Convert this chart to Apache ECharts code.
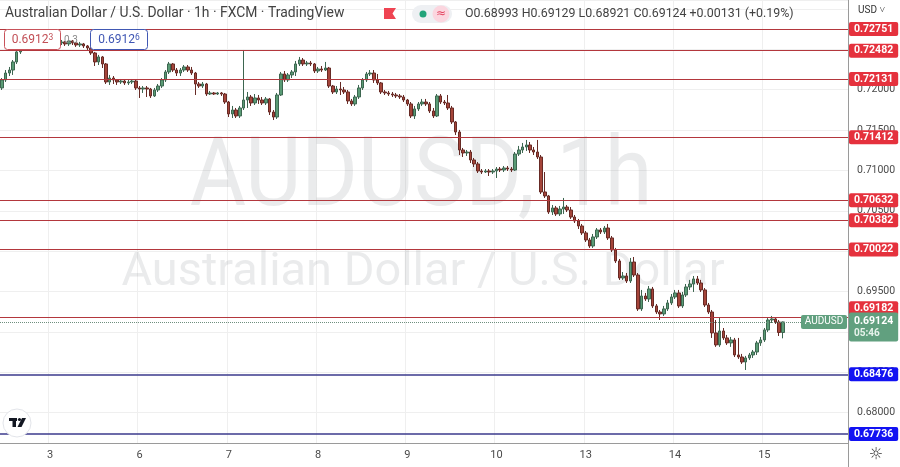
<!DOCTYPE html>
<html><head><meta charset="utf-8">
<script src="https://cdn.jsdelivr.net/npm/echarts@6/dist/echarts.min.js"></script>
<style>html,body{margin:0;padding:0;background:#fff}#c{width:900px;height:467px}</style>
</head><body><div id="c"></div>
<script>
// ---- DATA (AUD/USD, 1h bars, FXCM) ----
const opens = [
.72021,.7212,.72206,.72243,.72343,.72467,.72541,.72566,.72615,.72591,
.7264,.72615,.72665,.7264,.72603,.72615,.72578,.72591,.72566,.72603,
.72578,.72553,.72566,.72541,.72516,.72454,.72343,.72405,.72318,.72095,
.72144,.7212,.72095,.72107,.72083,.72095,.72107,.72021,.72008,.72021,
.72008,.71922,.71996,.72045,.7212,.72219,.72318,.72243,.72206,.72243,
.72281,.72243,.72206,.7207,.72045,.7207,.71946,.71959,.71946,.71959,
.71946,.71847,.71699,.71748,.71674,.71773,.71872,.71909,.71835,.71897,
.71872,.71835,.71885,.71723,.71661,.71934,.72194,.7212,.72182,.72219,
.72318,.72367,.72318,.7233,.72318,.72231,.72256,.72243,.72268,.72045,
.71971,.72008,.71996,.71971,.7186,.71823,.71909,.72021,.7212,.72194,
.72206,.7212,.72083,.71971,.71959,.71946,.71934,.71922,.71909,.71872,
.71823,.71674,.71761,.71823,.71847,.71823,.71736,.71674,.71922,.71847,
.71835,.71773,.716,.71476,.71253,.71216,.71228,.71129,.7108,.70993,
.7098,.70993,.7098,.70993,.71017,.71005,.7103,.71017,.71005,.71203,
.71253,.7129,.71315,.71253,.71228,.71166,.70733,.70684,.70485,.70535,
.70461,.70522,.70547,.7051,.70423,.70374,.70312,.70226,.70139,.70064,
.70176,.70263,.70238,.70287,.70164,.70015,.69879,.69668,.69693,.69631,
.69866,.69705,.69285,.69445,.69408,.69532,.69322,.69247,.69223,.69285,
.69359,.69433,.69483,.69322,.69458,.69557,.69594,.69656,.69606,.6952,
.69334,.69247,.68988,.68839,.69012,.68926,.68864,.68901,.68715,.6869,
.68628,.68678,.68715,.68752,.68864,.68901,.69025,.69148,.69161,.69123,
.68993];
const closes = [
.7212,.72206,.72243,.72343,.72467,.72541,.72566,.72615,.72591,.7264,
.72615,.72665,.7264,.72603,.72615,.72578,.72591,.72566,.72603,.72578,
.72553,.72566,.72541,.72516,.72454,.72343,.72405,.72318,.72095,.72144,
.7212,.72095,.72107,.72083,.72095,.72107,.72021,.72008,.72021,.72008,
.71922,.71996,.72045,.7212,.72219,.72318,.72243,.72206,.72243,.72281,
.72243,.72206,.7207,.72045,.7207,.71946,.71959,.71946,.71959,.71946,
.71847,.71699,.71748,.71674,.71773,.71872,.71909,.71835,.71897,.71872,
.71835,.71885,.71723,.71661,.71934,.72194,.7212,.72182,.72219,.72318,
.72367,.72318,.7233,.72318,.72231,.72256,.72243,.72268,.72045,.71971,
.72008,.71996,.71971,.7186,.71823,.71909,.72021,.7212,.72194,.72206,
.7212,.72083,.71971,.71959,.71946,.71934,.71922,.71909,.71872,.71823,
.71674,.71761,.71823,.71847,.71823,.71736,.71674,.71922,.71847,.71835,
.71773,.716,.71476,.71253,.71216,.71228,.71129,.7108,.70993,.7098,
.70993,.7098,.70993,.71017,.71005,.7103,.71017,.71005,.71203,.71253,
.7129,.71315,.71253,.71228,.71166,.70733,.70684,.70485,.70535,.70461,
.70522,.70547,.7051,.70423,.70374,.70312,.70226,.70139,.70064,.70176,
.70263,.70238,.70287,.70164,.70015,.69879,.69668,.69693,.69631,.69866,
.69705,.69285,.69445,.69408,.69532,.69322,.69247,.69223,.69285,.69359,
.69433,.69483,.69322,.69458,.69557,.69594,.69656,.69606,.6952,.69334,
.69247,.68988,.68839,.69012,.68926,.68864,.68901,.68715,.6869,.68628,
.68678,.68715,.68752,.68864,.68901,.69025,.69148,.69161,.69123,.68993,
.69124];
const highs = [
.72144,.72243,.72281,.72367,.72491,.72566,.72591,.7264,.72627,.72665,
.72652,.7269,.72677,.72665,.7264,.72627,.72615,.72603,.72615,.72615,
.72591,.72591,.72578,.72553,.72541,.72467,.7243,.72417,.7233,.72182,
.72169,.72132,.72132,.7212,.7212,.72132,.7212,.72045,.72045,.72045,
.72021,.72021,.7207,.72144,.72243,.72343,.7233,.72268,.72268,.72305,
.72305,.72281,.72219,.72095,.72095,.72083,.71984,.71971,.71971,.71971,
.71959,.7186,.71798,.71773,.71798,.72491,.71971,.71934,.71946,.71934,
.71909,.71909,.71897,.71748,.71959,.72219,.72231,.72206,.72243,.72355,
.72405,.72392,.72355,.72355,.7233,.72281,.72293,.72343,.72281,.72058,
.72045,.72095,.72033,.71996,.71885,.71934,.72058,.72144,.72219,.72243,
.72243,.72194,.72095,.71996,.71984,.71971,.71959,.71946,.71934,.71885,
.71847,.71798,.71847,.71885,.71885,.71847,.71773,.71946,.71946,.71872,
.71934,.71798,.71612,.71501,.71278,.71253,.71253,.71154,.71104,.71017,
.71017,.71017,.71017,.71042,.71042,.71055,.71055,.71042,.71228,.71303,
.7134,.71377,.71352,.7129,.71377,.71191,.7098,.70696,.70572,.7056,
.7056,.70659,.70572,.70547,.70448,.70399,.70337,.7025,.70164,.70213,
.70287,.70287,.70312,.70337,.70188,.7004,.69903,.69742,.6973,.69916,
.69928,.6973,.6952,.69483,.69569,.69557,.69346,.69272,.69322,.69396,
.6947,.6952,.6952,.69495,.69594,.69644,.69693,.69693,.69644,.69544,
.69359,.69272,.69148,.69173,.69049,.68963,.68938,.68926,.68926,.68728,
.68703,.6874,.68777,.68889,.68938,.69049,.69173,.69198,.69185,.69148,
.69129];
const lows = [
.71996,.72095,.72169,.72182,.72318,.72442,.72516,.72541,.72553,.72566,
.72591,.72603,.72615,.72578,.72578,.72553,.72553,.72541,.72541,.72553,
.72529,.72529,.72516,.72491,.7243,.72293,.72305,.72268,.7207,.72058,
.7207,.72058,.7207,.72058,.72058,.7207,.71996,.71897,.71959,.71909,
.71897,.71909,.71971,.72021,.72095,.72194,.72219,.72169,.72169,.72219,
.72219,.72182,.71934,.72021,.72021,.71922,.71934,.71934,.71934,.71922,
.71823,.71661,.71649,.71649,.71649,.71748,.71773,.71798,.7181,.71823,
.7181,.7181,.71686,.71624,.71637,.71922,.72095,.72095,.72144,.72169,
.72293,.72293,.72293,.72293,.72206,.72206,.72219,.72231,.72021,.71946,
.71946,.71934,.71946,.71823,.71798,.71798,.71885,.71996,.72095,.72169,
.72083,.72058,.71946,.71934,.71922,.71909,.71897,.71885,.71847,.71798,
.71649,.71637,.71736,.71798,.71798,.71711,.71649,.71661,.71823,.7181,
.71748,.71575,.71439,.71191,.71166,.71179,.71092,.71042,.70968,.70956,
.70968,.70931,.70956,.70906,.7098,.7098,.70993,.7098,.70993,.71179,
.71216,.71241,.71216,.71191,.71141,.70708,.70659,.70461,.70448,.70436,
.70436,.70461,.70485,.70399,.70349,.70275,.70201,.70114,.7004,.7004,
.70151,.70213,.70213,.70139,.6999,.69854,.69644,.69644,.69606,.69606,
.6968,.6926,.6926,.69384,.69371,.69297,.69223,.69148,.69198,.6926,
.69334,.69408,.69297,.69297,.69433,.6952,.69495,.69582,.69495,.69309,
.69223,.68926,.68815,.68815,.68901,.68839,.68815,.6869,.68666,.68604,
.68529,.68653,.68678,.68715,.68827,.68876,.69,.69111,.69099,.6895,
.68921];
const sessionDays = ['2','3','6','7','8','9','10','13','14','15'];
const firstBarHour = 11;
const redLevels = [0.72751, 0.72482, 0.72131, 0.71412, 0.70632, 0.70382, 0.70022, 0.69182];
const blueLevels = [0.68476, 0.67736];
const lastPrice = 0.69124;
const countdown = '05:46';
const symbolName = 'AUDUSD';
const titleText = 'Australian Dollar / U.S. Dollar · 1h · FXCM · TradingView';
const ohlcText = 'O0.68993 H0.69129 L0.68921 C0.69124 +0.00131 (+0.19%)';
const sellQuote = ['0.6912', '3'];
const buyQuote = ['0.6912', '6'];
const spreadText = '0.3';
const watermark1 = 'AUDUSD, 1h';
const watermark2 = 'Australian Dollar / U.S. Dollar';
const currencyText = 'USD ˅';
const rightPadSlots = 17;

// ---- categories (hourly) ----
const categories = [];
{ let d = 0, h = firstBarHour;
  for (let i = 0; i < closes.length; i++) {
    categories.push(sessionDays[d] + ' ' + String(h).padStart(2, '0') + ':00');
    h++; if (h === 24) { h = 0; d++; }
  }
  for (let i = 0; i < rightPadSlots; i++) categories.push('');
}
const isDayStart = (i, v) => typeof v === 'string' && v.endsWith(' 00:00');

const candleData = opens.map((o, i) => [o, closes[i], lows[i], highs[i]]);

const FONT = 'Roboto';
const lblBase = { show: true, position: 'end', distance: 1, color: '#fff', fontWeight: 'bold',
  fontSize: 10.5, fontFamily: FONT, padding: [2, 5, 1, 5], borderRadius: 2 };
const markData = [];
redLevels.forEach(v => markData.push({ yAxis: v,
  lineStyle: { color: '#b3373d', width: 1, type: 'solid' },
  label: Object.assign({}, lblBase, { formatter: v.toFixed(5), backgroundColor: '#e5313d',
    offset: v === 0.69182 ? [0, -9] : [0, 0] }) }));
blueLevels.forEach(v => markData.push({ yAxis: v,
  lineStyle: { color: '#3b3a8c', width: 1.5, type: 'solid' },
  label: Object.assign({}, lblBase, { formatter: v.toFixed(5), backgroundColor: '#1212f2' }) }));
markData.push({ yAxis: lastPrice,
  lineStyle: { color: '#6f8f7e', width: 1, type: 'dotted' },
  label: Object.assign({}, lblBase, { offset: [0, 5], backgroundColor: '#61a07f', padding: [3, 5, 2, 5],
    formatter: '{a|' + lastPrice.toFixed(5) + '}\n{b|' + countdown + '}',
    rich: { a: { color: '#fff', fontSize: 10.5, fontWeight: 'bold', fontFamily: FONT, lineHeight: 12 },
            b: { color: '#e8f3ec', fontSize: 10, fontFamily: FONT, lineHeight: 12 } } }) });

const chart = echarts.init(document.getElementById('c'), null, { renderer: 'canvas' });
chart.setOption({
  animation: false,
  backgroundColor: '#ffffff',
  textStyle: { fontFamily: FONT },
  grid: { left: 0, right: 52, top: 0, bottom: 24, containLabel: false },
  xAxis: { type: 'category', data: categories, boundaryGap: true,
    axisLine: { show: true, lineStyle: { color: '#9a9a9a', width: 1 } },
    axisTick: { show: false },
    axisLabel: { interval: isDayStart, formatter: v => v.split(' ')[0], color: '#4a4a4a', fontSize: 11, margin: 7 },
    splitLine: { show: true, interval: isDayStart, lineStyle: { color: '#efefef', width: 1 } } },
  yAxis: { type: 'value', position: 'right', min: 0.67625, max: 0.7311, splitNumber: 10,
    axisLine: { show: true, lineStyle: { color: '#9a9a9a', width: 1 } },
    axisTick: { show: false },
    axisLabel: { color: '#4a4a4a', fontSize: 10.5, margin: 9,
      formatter: v => (Math.abs(v / 0.005 - Math.round(v / 0.005)) < 1e-6 && v < 0.7295) ? v.toFixed(5) : '' },
    splitLine: { show: true, lineStyle: { color: '#efefef', width: 1 } } },
  series: [{
    type: 'candlestick', data: candleData, barWidth: 3, z: 3,
    itemStyle: { color: '#5a9b75', color0: '#a5453a', borderColor: '#3d6650', borderColor0: '#672a25', borderWidth: 1 },
    markLine: { symbol: ['none', 'none'], precision: 5, silent: true, animation: false, z: 4, data: markData }
  }]
});

// ---- overlays (chrome + labels) ----
const yLast = chart.convertToPixel({ yAxisIndex: 0 }, lastPrice);
const gfx = [
  { type: 'text', z: 1, x: 421, y: 181, scaleX: 0.9,
    style: { text: watermark1, fontFamily: FONT, fontSize: 96, fill: 'rgba(95,98,110,0.13)', align: 'center', verticalAlign: 'middle' } },
  { type: 'text', z: 1, x: 423, y: 273, scaleX: 1.02,
    style: { text: watermark2, fontFamily: FONT, fontSize: 46, fill: 'rgba(95,98,110,0.13)', align: 'center', verticalAlign: 'middle' } },
  { type: 'line', z: 50, shape: { x1: 848.5, y1: 0, x2: 848.5, y2: 467 }, style: { stroke: '#9a9a9a', lineWidth: 1 } },
  // header
  { type: 'text', z: 100, x: 5, y: 14, style: { text: titleText, fontFamily: FONT, fontSize: 13.9, fill: '#434343', verticalAlign: 'middle' } },
  { type: 'polygon', z: 100, shape: { points: [[384, 8], [396, 8], [392.5, 13.5], [396, 19], [384, 19]] }, style: { fill: '#ef4452' } },
  { type: 'rect', z: 100, shape: { x: 412, y: 5, width: 40, height: 18, r: 9 }, style: { fill: '#eef0f3' } },
  { type: 'circle', z: 101, shape: { cx: 423, cy: 14, r: 3.5 }, style: { fill: '#22a47a' } },
  { type: 'circle', z: 101, shape: { cx: 441, cy: 14, r: 8.5 }, style: { fill: '#fbd6df' } },
  { type: 'text', z: 102, x: 441, y: 14, style: { text: '≈', fontFamily: 'DejaVu Sans', fontSize: 12, fill: '#e2435f', align: 'center', verticalAlign: 'middle' } },
  { type: 'text', z: 100, x: 465, y: 14, style: { text: ohlcText, fontFamily: FONT, fontSize: 12.4, fill: '#434343', verticalAlign: 'middle' } },
  { type: 'text', z: 100, x: 858, y: 10, style: { text: currencyText, fontFamily: FONT, fontSize: 10, fill: '#333', verticalAlign: 'middle' } },
  // quote boxes
  { type: 'rect', z: 100, shape: { x: 4.5, y: 29.5, width: 56, height: 20, r: 3 }, style: { fill: '#fff', stroke: '#c8525a', lineWidth: 1 } },
  { type: 'text', z: 101, x: 32.5, y: 40, style: { text: '{a|' + sellQuote[0] + '}{s|' + sellQuote[1] + '}', align: 'center', verticalAlign: 'middle',
      rich: { a: { fontFamily: FONT, fontSize: 12, fill: '#c24f56' }, s: { fontFamily: FONT, fontSize: 8.5, fill: '#c24f56', verticalAlign: 'top', padding: [0, 0, 5, 0] } } } },
  { type: 'text', z: 99, x: 64, y: 40, style: { text: spreadText, fontFamily: FONT, fontSize: 10, fill: '#8a8a8a', verticalAlign: 'middle' } },
  { type: 'rect', z: 100, shape: { x: 90.5, y: 29.5, width: 57, height: 20, r: 3 }, style: { fill: '#fff', stroke: '#4158b3', lineWidth: 1 } },
  { type: 'text', z: 101, x: 119, y: 40, style: { text: '{a|' + buyQuote[0] + '}{s|' + buyQuote[1] + '}', align: 'center', verticalAlign: 'middle',
      rich: { a: { fontFamily: FONT, fontSize: 12, fill: '#3f56b3' }, s: { fontFamily: FONT, fontSize: 8.5, fill: '#3f56b3', verticalAlign: 'top', padding: [0, 0, 5, 0] } } } },
  // symbol tag on last price
  { type: 'rect', z: 100, shape: { x: 801, y: yLast - 7, width: 46, height: 14, r: 2 }, style: { fill: '#61a07f' } },
  { type: 'text', z: 101, x: 824, y: yLast, style: { text: symbolName, fontFamily: FONT, fontSize: 10, fill: '#fff', align: 'center', verticalAlign: 'middle' } },
  // TradingView logo
  { type: 'circle', z: 100, shape: { cx: 17, cy: 423, r: 14 }, style: { fill: '#fff', stroke: '#e3e5ea', lineWidth: 1 } },
  { type: 'rect', z: 101, shape: { x: 9, y: 418, width: 8, height: 3 }, style: { fill: '#131722' } },
  { type: 'rect', z: 101, shape: { x: 12.5, y: 418, width: 3.5, height: 9 }, style: { fill: '#131722' } },
  { type: 'circle', z: 101, shape: { cx: 19.5, cy: 419.5, r: 1.6 }, style: { fill: '#131722' } },
  { type: 'polygon', z: 101, shape: { points: [[22, 418], [26, 418], [21.5, 427], [17.5, 427]] }, style: { fill: '#131722' } },
  // gear
  { type: 'text', z: 100, x: 876, y: 455, style: { text: '☼', fontFamily: 'DejaVu Sans', fontSize: 16, fill: '#333', align: 'center', verticalAlign: 'middle' } }
];
chart.setOption({ graphic: gfx });
</script></body></html>
